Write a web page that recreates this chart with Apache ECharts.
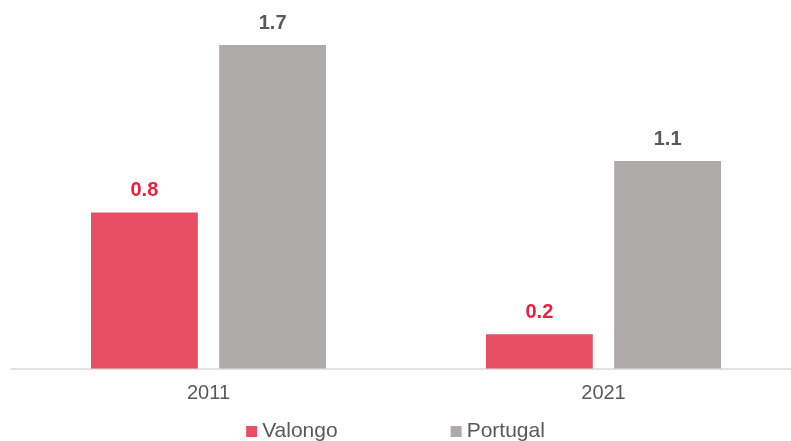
<!DOCTYPE html>
<html>
<head>
<meta charset="utf-8">
<style>
  html, body { margin: 0; padding: 0; background: #fff; }
  #chart { width: 791px; height: 441px; }
</style>
<script src="https://cdn.jsdelivr.net/npm/echarts@6/dist/echarts.min.js"></script>
</head>
<body>
<div id="chart"></div>
<script>
// dados
const categories = ['2011', '2021'];
const valongo = [0.82, 0.18];
const portugal = [1.70, 1.09];

const chart = echarts.init(document.getElementById('chart'));

const labelFont = 'Liberation Sans, Arial, sans-serif';

chart.setOption({
    animation: false,
    grid: {
        left: 11, width: 790, top: 26, bottom: 72.5,
        containLabel: false, outerBoundsMode: 'none'
    },
    legend: {
        top: 416,
        left: 'center',
        icon: 'rect',
        itemWidth: 11,
        itemHeight: 11,
        itemGap: 113,
        textStyle: { color: '#595959', fontSize: 21, fontFamily: labelFont }
    },
    xAxis: {
        type: 'category',
        data: categories,
        axisLine: { lineStyle: { color: '#d9d9d9', width: 1.5 } },
        axisTick: { show: false },
        axisLabel: { color: '#595959', fontSize: 20, fontFamily: labelFont, margin: 15 }
    },
    yAxis: {
        type: 'value',
        min: 0,
        max: 1.8,
        show: false,
        splitLine: { show: false }
    },
    series: [
        {
            name: 'Valongo',
            type: 'bar',
            data: valongo,
            barGap: '20%',
            barCategoryGap: '40.5%',
            itemStyle: { color: '#e94f64' },
            label: {
                show: true,
                position: 'top',
                distance: 12,
                color: '#e8203f',
                fontWeight: 'bold',
                fontSize: 20,
                fontFamily: labelFont,
                formatter: p => p.value.toFixed(1)
            }
        },
        {
            name: 'Portugal',
            type: 'bar',
            data: portugal,
            itemStyle: { color: '#aeaaaa' },
            label: {
                show: true,
                position: 'top',
                distance: 12,
                color: '#595959',
                fontWeight: 'bold',
                fontSize: 20,
                fontFamily: labelFont,
                formatter: p => p.value.toFixed(1)
            }
        }
    ]
});
</script>
</body>
</html>
